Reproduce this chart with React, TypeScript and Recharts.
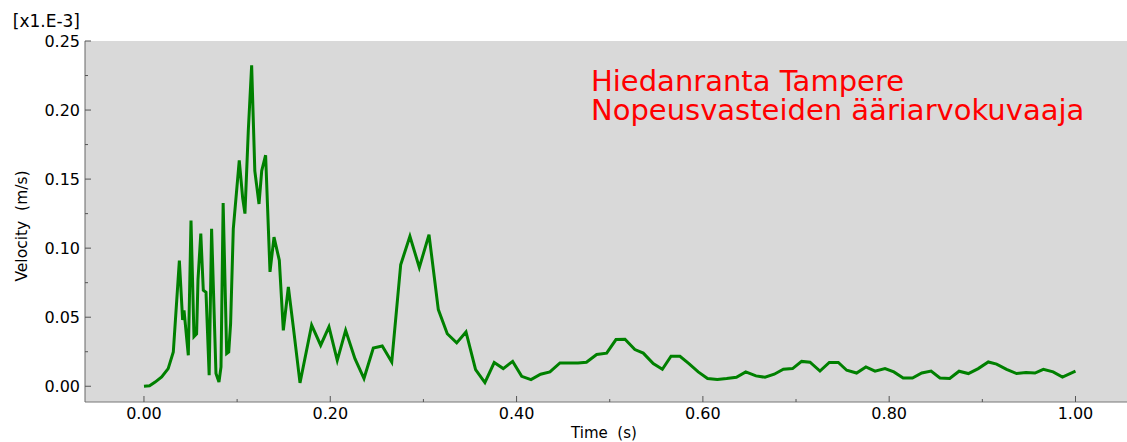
import React from "react";
import { LineChart, Line, XAxis, YAxis, CartesianGrid } from "recharts";

// time (s) and velocity (x1e-3 m/s)
const TIME = [
  0.0, 0.006, 0.012, 0.019, 0.026, 0.0315, 0.038, 0.0415, 0.043, 0.0476, 0.0505, 0.0537, 0.0565, 0.058,
  0.061, 0.0637, 0.0666, 0.07, 0.0726, 0.0773, 0.0805, 0.0827, 0.085, 0.0888, 0.091, 0.093, 0.0959,
  0.1023, 0.106, 0.1084, 0.112, 0.1156, 0.119, 0.1235, 0.1264, 0.1306, 0.1353, 0.1396, 0.1453, 0.1496,
  0.155, 0.1603, 0.1675, 0.18, 0.1897, 0.1986, 0.2075, 0.2165, 0.2265, 0.2362, 0.2462, 0.2558, 0.266,
  0.2756, 0.2855, 0.2956, 0.306, 0.316, 0.3256, 0.3357, 0.3457, 0.356, 0.366, 0.376, 0.3857, 0.3958,
  0.4055, 0.4155, 0.4258, 0.4358, 0.4466, 0.456, 0.466, 0.475, 0.486, 0.4967, 0.5067, 0.5164, 0.527,
  0.536, 0.5467, 0.5565, 0.5658, 0.5754, 0.585, 0.595, 0.605, 0.6155, 0.6255, 0.636, 0.646, 0.657,
  0.6667, 0.6766, 0.6864, 0.6963, 0.706, 0.715, 0.7257, 0.7357, 0.7454, 0.7544, 0.765, 0.775, 0.7848,
  0.7955, 0.805, 0.815, 0.825, 0.835, 0.845, 0.8545, 0.865, 0.875, 0.885, 0.8956, 0.9064, 0.9153,
  0.926, 0.9368, 0.9468, 0.9565, 0.9655, 0.976, 0.986, 1.0,
];
const VELOCITY = [
  0.0, 0.0003, 0.003, 0.0067, 0.0128, 0.0248, 0.091, 0.048, 0.055, 0.0224, 0.12, 0.036, 0.038, 0.077,
  0.1106, 0.0695, 0.068, 0.008, 0.114, 0.0092, 0.003, 0.014, 0.1327, 0.0237, 0.0248, 0.0454, 0.114,
  0.1636, 0.136, 0.125, 0.185, 0.2324, 0.156, 0.132, 0.156, 0.1673, 0.0828, 0.108, 0.0912, 0.0405,
  0.0719, 0.043, 0.0024, 0.0442, 0.0297, 0.043, 0.0188, 0.0405, 0.02, 0.0056, 0.0277, 0.0292, 0.0176,
  0.088, 0.1086, 0.086, 0.1098, 0.0555, 0.038, 0.0314, 0.0393, 0.012, 0.0027, 0.0172, 0.0128, 0.018,
  0.0072, 0.0048, 0.0087, 0.0104, 0.0169, 0.0169, 0.0169, 0.0174, 0.023, 0.024, 0.0338, 0.034, 0.0266,
  0.024, 0.0164, 0.0123, 0.0217, 0.0217, 0.0164, 0.0104, 0.0056, 0.0049, 0.0056, 0.0065, 0.0104, 0.0075,
  0.0065, 0.0087, 0.0123, 0.0128, 0.018, 0.0174, 0.011, 0.0172, 0.0172, 0.0116, 0.0096, 0.014, 0.0109,
  0.0128, 0.0104, 0.006, 0.006, 0.0096, 0.011, 0.006, 0.0056, 0.0109, 0.0092, 0.0128, 0.0176, 0.016,
  0.0123, 0.0092, 0.0099, 0.0096, 0.0123, 0.0104, 0.0067, 0.0109,
];

const X_TICKS = [0, 0.1, 0.2, 0.3, 0.4, 0.5, 0.6, 0.7, 0.8, 0.9, 1.0];
const Y_TICKS = [0, 0.025, 0.05, 0.075, 0.1, 0.125, 0.15, 0.175, 0.2, 0.225, 0.25];

const TITLE_LINES = ["Hiedanranta Tampere", "Nopeusvasteiden ääriarvokuvaaja"];

const data = TIME.map((t, i) => ({ t, v: VELOCITY[i] }));

const FONT = "DejaVu Sans, Verdana, sans-serif";
const isMajorX = (v: number) => Math.round(v * 10) % 2 === 0;
const isMajorY = (v: number) => Math.round(v * 40) % 2 === 0;

const BottomTick = (props: any) => {
  const { x, y, payload } = props;
  const major = isMajorX(payload.value);
  return (
    <g>
      <line x1={x} x2={x} y1={y} y2={y - (major ? 6 : 3)} stroke="#555" strokeWidth={1} />
      {major && (
        <text x={x} y={y + 17} textAnchor="middle" fontSize={16} fontFamily={FONT} fill="#000">
          {payload.value.toFixed(2)}
        </text>
      )}
    </g>
  );
};

const TopTick = (props: any) => {
  const { x, y, payload } = props;
  const major = isMajorX(payload.value);
  return <line x1={x} x2={x} y1={y} y2={y + (major ? 6 : 3)} stroke="#555" strokeWidth={1} />;
};

const LeftTick = (props: any) => {
  const { x, y, payload } = props;
  const major = isMajorY(payload.value);
  return (
    <g>
      <line x1={x} x2={x + (major ? 6 : 3)} y1={y} y2={y} stroke="#555" strokeWidth={1} />
      {major && (
        <text x={x - 5} y={y} dy={5.5} textAnchor="end" fontSize={16} fontFamily={FONT} fill="#000">
          {payload.value.toFixed(2)}
        </text>
      )}
    </g>
  );
};

export default function App() {
  return (
    <div style={{ position: "absolute", left: 0, top: 0, width: 1127, height: 442, background: "#fff" }}>
      <LineChart width={1127} height={442} data={data} margin={{ top: 41, right: 0, bottom: 0, left: 0 }}>
        <CartesianGrid fill="#d9d9d9" horizontal={false} vertical={false} />
        <XAxis
          dataKey="t"
          type="number"
          domain={[-0.0633, 1.0553]}
          allowDataOverflow
          ticks={X_TICKS}
          tickSize={0}
          tickMargin={0}
          tickLine={false}
          height={40}
          axisLine={{ stroke: "#777" }}
          tick={<BottomTick />}
          interval={0}
        />
        <XAxis
          xAxisId="top"
          orientation="top"
          dataKey="t"
          type="number"
          domain={[-0.0633, 1.0553]}
          allowDataOverflow
          ticks={X_TICKS}
          tickSize={0}
          tickMargin={0}
          tickLine={false}
          height={0}
          axisLine={{ stroke: "#333" }}
          tick={<TopTick />}
          interval={0}
        />
        <YAxis
          type="number"
          domain={[-0.0114, 0.25]}
          allowDataOverflow
          ticks={Y_TICKS}
          tickSize={0}
          tickMargin={0}
          tickLine={false}
          width={85}
          axisLine={{ stroke: "#666" }}
          tick={<LeftTick />}
          interval={0}
        />
        <Line
          dataKey="v"
          type="linear"
          stroke="#008000"
          strokeWidth={3}
          dot={false}
          isAnimationActive={false}
        />
        <text x={80} y={27} textAnchor="end" fontSize={17} fontFamily={FONT} fill="#000">
          [x1.E-3]
        </text>
        <text x={604} y={438} textAnchor="middle" fontSize={15} fontFamily={FONT} fill="#000" style={{ whiteSpace: "pre" }}>
          {"Time  (s)"}
        </text>
        <text
          x={27}
          y={226}
          textAnchor="middle"
          fontSize={15.5}
          fontFamily={FONT}
          fill="#000"
          transform="rotate(-90 27 226)"
          style={{ whiteSpace: "pre" }}
        >
          {"Velocity  (m/s)"}
        </text>
        <text x={591} y={91} fontSize={29} fontFamily={FONT} fill="#ff0000">
          {TITLE_LINES.map((line, i) => (
            <tspan key={line} x={591} dy={i === 0 ? 0 : 29}>
              {line}
            </tspan>
          ))}
        </text>
      </LineChart>
    </div>
  );
}
